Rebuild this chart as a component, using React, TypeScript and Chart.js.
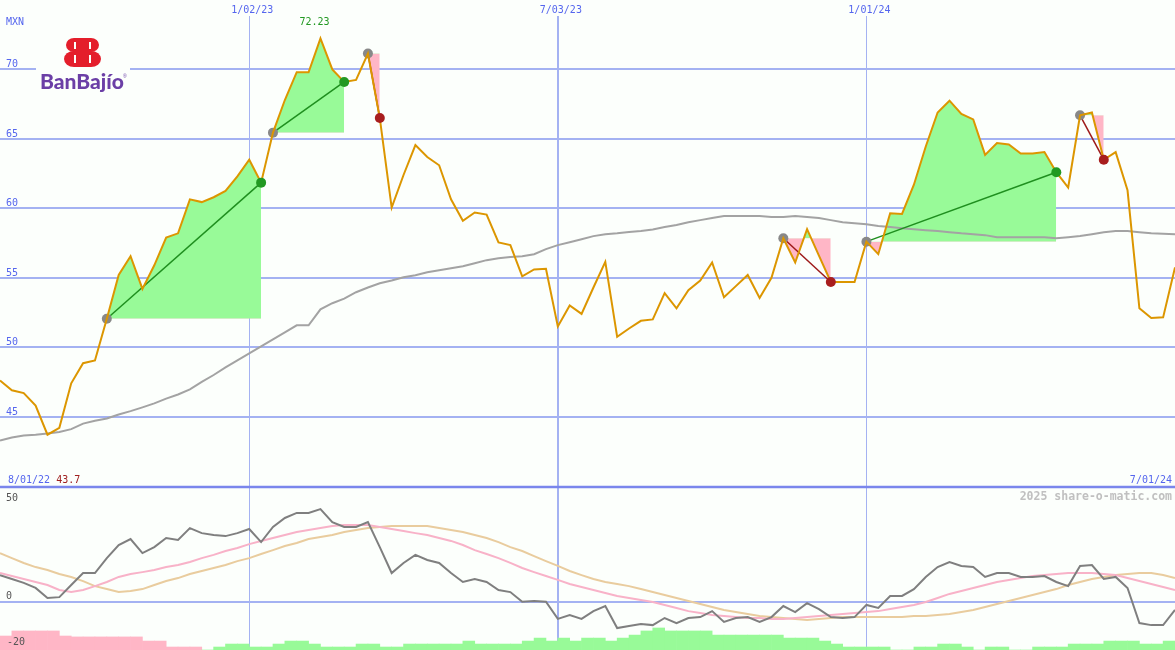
import React, { useEffect, useRef } from 'react';
import { Chart, registerables } from 'chart.js';

Chart.register(...registerables);

// ---------- data ----------
const startDateLabel = '8/01/22';
const endDateLabel = '7/01/24';
const currencyLabel = 'MXN';
const watermark = '2025 share-o-matic.com';
const dateLabels = ['1/02/23', '7/03/23', '1/01/24'];
const dateLabelIndex = [21, 47, 73];
const priceTicks = [45, 50, 55, 60, 65, 70];
const oscTicks = [50, 0, -20];

const price = [
  47.6, 46.9, 46.7, 45.8, 43.7, 44.2, 47.4, 48.85, 49.05, 52.05,
  55.2, 56.55, 54.2, 55.9, 57.9, 58.2, 60.65, 60.45, 60.8, 61.25,
  62.3, 63.5, 61.85, 65.45, 67.8, 69.8, 69.8, 72.23, 70.0, 69.1,
  69.25, 71.15, 66.5, 60.05, 62.4, 64.55, 63.7, 63.1, 60.65, 59.1,
  59.7, 59.55, 57.55, 57.35, 55.1, 55.6, 55.65, 51.5, 53.0, 52.4,
  54.3, 56.15, 50.75, 51.35, 51.9, 52.0, 53.9, 52.8, 54.1, 54.8,
  56.1, 53.6, 54.4, 55.2, 53.55, 55.0, 57.85, 56.1, 58.5, 56.6,
  54.7, 54.7, 54.7, 57.6, 56.7, 59.65, 59.6, 61.7, 64.45, 66.9,
  67.75, 66.8, 66.4, 63.85, 64.7, 64.6, 63.95, 63.95, 64.05, 62.6,
  61.5, 66.7, 66.9, 63.5, 64.05, 61.3, 52.8, 52.1, 52.15, 55.75,
];

const priceMA = [
  43.29, 43.5, 43.65, 43.7, 43.79, 43.9, 44.1, 44.5, 44.7, 44.87,
  45.16, 45.4, 45.67, 45.96, 46.3, 46.6, 46.96, 47.5, 48.0, 48.55,
  49.05, 49.56, 50.06, 50.57, 51.07, 51.58, 51.58, 52.73, 53.17, 53.5,
  53.96, 54.3, 54.6, 54.8, 55.04, 55.18, 55.4, 55.54, 55.69, 55.83,
  56.05, 56.27, 56.4, 56.5, 56.55, 56.7, 57.06, 57.35, 57.56, 57.78,
  58.0, 58.14, 58.2, 58.3, 58.36, 58.47, 58.65, 58.8, 59.0, 59.15,
  59.3, 59.44, 59.44, 59.44, 59.44, 59.37, 59.37, 59.44, 59.37, 59.3,
  59.15, 59.0, 58.93, 58.86, 58.72, 58.65, 58.57, 58.5, 58.43, 58.36,
  58.28, 58.2, 58.14, 58.07, 57.92, 57.92, 57.92, 57.92, 57.92, 57.85,
  57.92, 58.0, 58.14, 58.28, 58.36, 58.36, 58.28, 58.2, 58.17, 58.14,
];

const oscMain = [
  11.6, 9.9, 8.2, 6.0, 1.6, 2.0, 7.3, 12.5, 12.5, 19.0,
  24.7, 27.3, 21.2, 23.8, 27.8, 26.9, 32.1, 29.9, 29.1, 28.6,
  29.9, 31.7, 26.0, 32.6, 36.5, 38.7, 38.7, 40.4, 34.7, 32.6,
  32.6, 34.7, 23.8, 12.5, 16.9, 20.4, 18.2, 16.9, 12.5, 8.6,
  9.9, 8.6, 5.1, 4.2, 0.0, 0.3, 0.0, -7.5, -5.8, -7.5,
  -4.1, -1.9, -11.5, -10.6, -9.7, -10.2, -7.1, -9.3, -7.1, -6.7,
  -4.1, -8.8, -7.1, -6.7, -8.8, -6.7, -1.9, -4.5, -0.6, -3.2,
  -6.7, -7.1, -6.7, -1.4, -2.7, 2.5, 2.5, 5.5, 10.8, 15.1,
  17.3, 15.6, 15.1, 10.8, 12.5, 12.5, 10.8, 10.8, 11.2, 8.6,
  6.8, 15.6, 16.0, 9.9, 10.8, 6.0, -9.3, -10.2, -10.2, -3.6,
];

const oscSignal = [
  12.5, 11.2, 9.9, 8.6, 7.3, 5.1, 4.2, 5.1, 6.8, 8.6,
  10.8, 12.1, 12.9, 13.8, 15.1, 16.0, 17.3, 19.0, 20.4, 22.1,
  23.4, 25.1, 26.5, 27.8, 29.1, 30.4, 31.3, 32.1, 33.0, 33.4,
  33.4, 33.4, 32.6, 31.7, 30.8, 29.9, 29.1, 27.8, 26.5, 24.7,
  22.5, 20.8, 19.0, 16.9, 14.7, 12.9, 11.2, 9.5, 7.7, 6.4,
  5.1, 3.8, 2.5, 1.6, 0.7, -0.1, -1.4, -2.7, -4.1, -4.9,
  -5.8, -6.2, -6.7, -7.1, -7.1, -7.5, -7.5, -7.1, -6.7, -6.2,
  -5.8, -5.4, -4.9, -4.5, -4.1, -3.2, -2.3, -1.4, -0.1, 1.6,
  3.4, 4.7, 6.0, 7.3, 8.6, 9.5, 10.3, 11.2, 11.6, 12.1,
  12.5, 12.5, 12.5, 12.1, 11.6, 10.3, 9.0, 7.7, 6.4, 5.1,
];

const oscSlow = [
  21.2, 19.0, 16.9, 15.1, 13.8, 12.1, 10.8, 9.0, 6.8, 5.5,
  4.2, 4.7, 5.5, 7.3, 9.0, 10.3, 12.1, 13.4, 14.7, 16.0,
  17.7, 19.0, 20.8, 22.5, 24.3, 25.6, 27.3, 28.2, 29.1, 30.4,
  31.3, 32.1, 32.6, 33.0, 33.0, 33.0, 33.0, 32.1, 31.3, 30.4,
  29.1, 27.8, 26.0, 23.8, 22.1, 19.9, 17.7, 15.6, 13.4, 11.6,
  9.9, 8.6, 7.7, 6.8, 5.5, 4.2, 2.9, 1.6, 0.3, -1.0,
  -2.3, -3.6, -4.5, -5.4, -6.2, -6.7, -7.1, -7.5, -8.0, -7.5,
  -7.1, -6.7, -6.7, -6.7, -6.7, -6.7, -6.7, -6.2, -6.2, -5.8,
  -5.4, -4.5, -3.6, -2.3, -1.0, 0.3, 1.6, 2.9, 4.2, 5.5,
  7.3, 8.6, 9.9, 10.8, 11.6, 12.1, 12.5, 12.5, 11.6, 10.3,
];

// weekly histogram (one bar per week interval), negative = pink, positive = green
const histogram = [
  -6.1, -8.3, -8.3, -8.3, -8.3, -6.1, -5.7, -5.7, -5.7, -5.7,
  -5.7, -5.7, -3.9, -3.9, -1.3, -1.3, -1.3, 0, 1.3, 2.6,
  2.6, 1.3, 1.3, 2.6, 3.9, 3.9, 2.6, 1.3, 1.3, 1.3,
  2.6, 2.6, 1.3, 1.3, 2.6, 2.6, 2.6, 2.6, 2.6, 3.9,
  2.6, 2.6, 2.6, 2.6, 3.9, 5.2, 3.9, 5.2, 3.9, 5.2,
  5.2, 3.9, 5.2, 6.5, 8.3, 9.6, 8.3, 8.3, 8.3, 8.3,
  6.5, 6.5, 6.5, 6.5, 6.5, 6.5, 5.2, 5.2, 5.2, 3.9,
  2.6, 1.3, 1.3, 1.3, 1.3, 0, 0, 1.3, 1.3, 2.6,
  2.6, 1.3, 0, 1.3, 1.3, 0, 0, 1.3, 1.3, 1.3,
  2.6, 2.6, 2.6, 3.9, 3.9, 3.9, 2.6, 2.6, 3.9,
];

const tradeStart = [9, 23, 31, 66, 73, 91];
const tradeEnd = [22, 29, 32, 70, 89, 93];

// ---------- styles ----------
const BG = '#fcfffc';
const GRID = '#a4b2f2';
const DIVIDER = '#7a86ec';
const LABEL_BLUE = '#5566ee';
const FILL_GREEN = '#98fa98';
const FILL_PINK = '#ffb6c6';
const MONO = "'DejaVu Sans Mono', 'Liberation Mono', monospace";

const PRICE_MIN = 28.2;
const PRICE_MAX = 75;
const OSC_MIN = -21.05;
const OSC_MAX = 262.3;
const HIST_MAX = 283.35;

function drawLogo(ctx: CanvasRenderingContext2D) {
  ctx.save();
  ctx.fillStyle = BG;
  ctx.fillRect(36, 30, 94, 70);
  const ox = 64;
  const oy = 38;
  ctx.fillStyle = '#e41e2b';
  ctx.fillRect(ox + 13, oy, 11, 29);
  const lobe = (x0: number, top: number, h: number, a: number, rx: number, dir: number) => {
    ctx.beginPath();
    ctx.moveTo(x0, top);
    ctx.lineTo(x0 + dir * a, top);
    ctx.ellipse(x0 + dir * a, top + h / 2, rx, h / 2, 0, -Math.PI / 2, Math.PI / 2, dir < 0);
    ctx.lineTo(x0, top + h);
    ctx.closePath();
    ctx.fill();
  };
  lobe(ox + 24, oy, 14, 3, 8, 1);
  lobe(ox + 24, oy + 13, 16, 3, 10, 1);
  lobe(ox + 13, oy, 14, 3, 8, -1);
  lobe(ox + 13, oy + 13, 16, 3, 10, -1);
  ctx.fillStyle = BG;
  const slot = (x: number, y: number, w: number, h: number) => {
    ctx.fillRect(x, y, w, h);
  };
  slot(ox + 25, oy + 4, 2, 7);
  slot(ox + 25, oy + 17, 2, 8);
  slot(ox + 10, oy + 4, 2, 7);
  slot(ox + 10, oy + 17, 2, 8);
  ctx.fillStyle = '#6b3fa6';
  ctx.font = "900 21px Lato, 'Open Sans', sans-serif";
  ctx.textBaseline = 'alphabetic';
  ctx.textAlign = 'left';
  ctx.fillText('BanBajío', 40, 89, 84);
  ctx.font = '5px sans-serif';
  ctx.fillText('®', 123, 78);
  ctx.restore();
}

const decorPlugin = {
  id: 'decor',
  beforeDraw(chart: any) {
    const { ctx, width, height } = chart;
    ctx.save();
    ctx.fillStyle = BG;
    ctx.fillRect(0, 0, width, height);
    ctx.restore();
  },
  beforeDatasetsDraw(chart: any) {
    const { ctx, width, height } = chart;
    const xs = chart.scales.x;
    const ys = chart.scales.y;
    const yo = chart.scales.yo;
    ctx.save();
    ctx.strokeStyle = GRID;
    dateLabelIndex.forEach((idx, k) => {
      const px = Math.round(xs.getPixelForValue(idx));
      ctx.lineWidth = k === 1 ? 2 : 1;
      const off = k === 1 ? 0 : 0.5;
      ctx.beginPath();
      ctx.moveTo(px + off, 16);
      ctx.lineTo(px + off, height);
      ctx.stroke();
    });
    ctx.lineWidth = 2;
    priceTicks.forEach((t) => {
      const py = Math.round(ys.getPixelForValue(t));
      ctx.beginPath();
      ctx.moveTo(0, py);
      ctx.lineTo(width, py);
      ctx.stroke();
    });
    const zeroY = Math.round(yo.getPixelForValue(0));
    ctx.beginPath();
    ctx.moveTo(0, zeroY);
    ctx.lineTo(width, zeroY);
    ctx.stroke();
    const divY = Math.round(yo.getPixelForValue(oscTicks[0]));
    ctx.strokeStyle = DIVIDER;
    ctx.lineWidth = 2.5;
    ctx.beginPath();
    ctx.moveTo(0, divY);
    ctx.lineTo(width, divY);
    ctx.stroke();
    ctx.restore();
    drawLogo(ctx);
  },
  afterDraw(chart: any) {
    const { ctx, width } = chart;
    const xs = chart.scales.x;
    const ys = chart.scales.y;
    const yo = chart.scales.yo;
    const divY = yo.getPixelForValue(oscTicks[0]);
    ctx.save();
    ctx.textBaseline = 'alphabetic';
    ctx.font = `10px ${MONO}`;
    ctx.fillStyle = LABEL_BLUE;
    ctx.textAlign = 'left';
    ctx.fillText(currencyLabel, 6, 25);
    priceTicks.forEach((t) => {
      ctx.fillText(String(t), 6, ys.getPixelForValue(t) - 2);
    });
    ctx.textAlign = 'center';
    dateLabels.forEach((lab, k) => {
      ctx.fillText(lab, xs.getPixelForValue(dateLabelIndex[k]) + 3, 13);
    });
    ctx.textAlign = 'left';
    ctx.fillText(startDateLabel, 8, divY - 4);
    const startW = ctx.measureText(startDateLabel + ' ').width;
    ctx.textAlign = 'right';
    ctx.fillText(endDateLabel, width - 3, divY - 4);
    let maxI = 0;
    let minI = 0;
    price.forEach((v, i) => {
      if (v > price[maxI]) maxI = i;
      if (v < price[minI]) minI = i;
    });
    ctx.textAlign = 'left';
    ctx.fillStyle = '#a02020';
    ctx.fillText(price[minI].toFixed(1), 8 + startW, divY - 4);
    ctx.textAlign = 'center';
    ctx.fillStyle = '#229922';
    ctx.fillText(price[maxI].toFixed(2), xs.getPixelForValue(maxI) - 6, 25);
    ctx.textAlign = 'left';
    ctx.fillStyle = '#555555';
    oscTicks.forEach((t) => {
      const py = Math.max(yo.getPixelForValue(t) - 3, divY + 14);
      ctx.fillText(String(t), t < 0 ? 7 : 6, py);
    });
    ctx.font = `bold 11.5px ${MONO}`;
    ctx.fillStyle = '#c0c0c0';
    ctx.textAlign = 'right';
    ctx.fillText(watermark, width - 3, divY + 13);
    ctx.restore();
  },
};

function buildDatasets() {
  const pts = (arr: number[]) => arr.map((v, i) => ({ x: i, y: v }));
  const ds: any[] = [];
  ds.push({
    type: 'bar',
    label: 'hist',
    yAxisID: 'yh',
    data: histogram.map((v, i) => ({ x: i + 0.5, y: Math.abs(v) })),
    backgroundColor: histogram.map((v) => (v < 0 ? FILL_PINK : FILL_GREEN)),
    borderWidth: 0,
    barPercentage: 1,
    categoryPercentage: 1,
    order: 20,
  });
  tradeStart.forEach((s, k) => {
    const e = tradeEnd[k];
    const seg = [];
    for (let i = s; i <= e; i++) seg.push({ x: i, y: price[i] });
    ds.push({
      type: 'line',
      label: 'fill' + k,
      yAxisID: 'y',
      data: seg,
      borderWidth: 0,
      borderColor: 'rgba(0,0,0,0)',
      pointRadius: 0,
      fill: { target: { value: price[s] }, above: FILL_GREEN, below: FILL_PINK },
      order: 15,
    });
  });
  ds.push({ type: 'line', label: 'ma', yAxisID: 'y', data: pts(priceMA), borderColor: '#a3a3a3', borderWidth: 2, pointRadius: 0, fill: false, order: 14 });
  ds.push({ type: 'line', label: 'slow', yAxisID: 'yo', data: pts(oscSlow), borderColor: '#e9cc9e', borderWidth: 2, pointRadius: 0, fill: false, order: 13 });
  ds.push({ type: 'line', label: 'signal', yAxisID: 'yo', data: pts(oscSignal), borderColor: '#f8b2c8', borderWidth: 2, pointRadius: 0, fill: false, order: 12 });
  ds.push({ type: 'line', label: 'osc', yAxisID: 'yo', data: pts(oscMain), borderColor: '#7f7f7f', borderWidth: 2, pointRadius: 0, fill: false, order: 11 });
  tradeStart.forEach((s, k) => {
    const e = tradeEnd[k];
    const win = price[e] >= price[s];
    ds.push({
      type: 'line',
      label: 'trend' + k,
      yAxisID: 'y',
      data: [{ x: s, y: price[s] }, { x: e, y: price[e] }],
      borderColor: win ? '#1f8f1f' : '#9e1a1a',
      borderWidth: 1.5,
      pointRadius: 0,
      fill: false,
      order: 8,
    });
  });
  ds.push({
    type: 'line',
    label: 'entries',
    yAxisID: 'y',
    data: tradeStart.map((s) => ({ x: s, y: price[s] })),
    showLine: false,
    pointRadius: 5,
    pointBorderWidth: 0,
    pointBackgroundColor: '#888888',
    order: 7,
  });
  ds.push({ type: 'line', label: 'price', yAxisID: 'y', data: pts(price), borderColor: '#dc9600', borderWidth: 2, pointRadius: 0, fill: false, order: 5 });
  ds.push({
    type: 'line',
    label: 'exits',
    yAxisID: 'y',
    data: tradeEnd.map((e) => ({ x: e, y: price[e] })),
    showLine: false,
    pointRadius: 5,
    pointBorderWidth: 0,
    pointBackgroundColor: tradeEnd.map((e, k) => (price[e] >= price[tradeStart[k]] ? '#229922' : '#a81e1e')),
    order: 4,
  });
  return ds;
}

export default function App() {
  const ref = useRef<HTMLCanvasElement>(null);
  useEffect(() => {
    document.body.style.margin = '0';
    const canvas = ref.current;
    if (!canvas) return;
    const chart = new Chart(canvas, {
      type: 'line',
      data: { datasets: buildDatasets() },
      options: {
        animation: false,
        responsive: false,
        maintainAspectRatio: false,
        devicePixelRatio: 1,
        layout: { padding: 0, autoPadding: false },
        events: [],
        plugins: { legend: { display: false }, tooltip: { enabled: false } },
        elements: { line: { tension: 0 } },
        scales: {
          x: { type: 'linear', min: 0, max: price.length - 1, display: false, offset: false },
          y: { type: 'linear', min: PRICE_MIN, max: PRICE_MAX, display: false },
          yo: { type: 'linear', min: OSC_MIN, max: OSC_MAX, display: false },
          yh: { type: 'linear', min: 0, max: HIST_MAX, display: false },
        },
      } as any,
      plugins: [decorPlugin],
    } as any);
    return () => chart.destroy();
  }, []);
  return (
    <div style={{ position: 'fixed', left: 0, top: 0, width: 1175, height: 650, background: BG }}>
      <canvas ref={ref} width={1175} height={650} style={{ display: 'block', width: 1175, height: 650 }} />
    </div>
  );
}
